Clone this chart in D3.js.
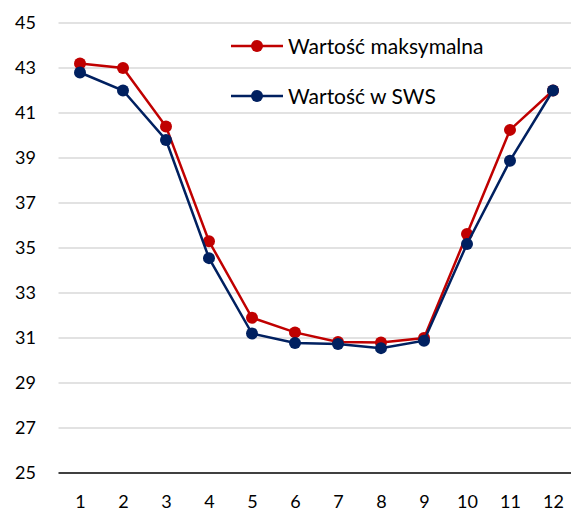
<!DOCTYPE html>
<html>
<head>
<meta charset="utf-8">
<script src="https://cdn.jsdelivr.net/npm/d3@7"></script>
<style>
  body { margin: 0; background: #fff; }
  text { font-family: Lato, "Open Sans", sans-serif; fill: #000; }
</style>
</head>
<body>
<div id="chart"></div>
<script>
// data
const months = [1, 2, 3, 4, 5, 6, 7, 8, 9, 10, 11, 12];
const maxValues = [43.2, 43.0, 40.4, 35.3, 31.9, 31.25, 30.82, 30.8, 31.0, 35.62, 40.25, 42.0];
const swsValues = [42.8, 42.0, 39.8, 34.55, 31.2, 30.78, 30.73, 30.55, 30.88, 35.18, 38.88, 42.0];
const yTicks = [25, 27, 29, 31, 33, 35, 37, 39, 41, 43, 45];
const seriesNames = ["Wartość maksymalna", "Wartość w SWS"];
const seriesColors = ["#C00000", "#002060"];

const W = 571, H = 514;
const margin = {top: 23, right: 0, bottom: 41, left: 58.5};

const svg = d3.select("#chart")
  .append("svg")
    .attr("width", W)
    .attr("height", H);

// x: one band per month, points sit in the middle
const x = d3.scalePoint()
  .domain(months)
  .range([80, 553]);

const y = d3.scaleLinear()
  .domain([25, 45])
  .range([H - margin.bottom, margin.top]);

// gridlines
svg.append("g")
  .selectAll("line")
  .data(yTicks.slice(1))
  .enter().append("line")
    .attr("x1", margin.left)
    .attr("x2", W)
    .attr("y1", d => y(d))
    .attr("y2", d => y(d))
    .attr("stroke", "#d9d9d9")
    .attr("stroke-width", 1.5);

// baseline
svg.append("line")
  .attr("x1", margin.left)
  .attr("x2", W)
  .attr("y1", y(25))
  .attr("y2", y(25))
  .attr("stroke", "#000")
  .attr("stroke-width", 1.5);

// y labels
const yAxis = svg.append("g")
  .attr("transform", `translate(36,0)`)
  .call(d3.axisLeft(y).tickValues(yTicks).tickSize(0).tickPadding(0));
yAxis.select(".domain").remove();
yAxis.selectAll("text")
  .style("font-size", "18px")
  .style("font-family", "Lato, sans-serif")
  .attr("fill", "#000");

// x labels
const xAxis = svg.append("g")
  .attr("transform", `translate(0,${y(25)})`)
  .call(d3.axisBottom(x).tickSize(0).tickPadding(22));
xAxis.select(".domain").remove();
xAxis.selectAll("text")
  .style("font-size", "18px")
  .style("font-family", "Lato, sans-serif")
  .attr("fill", "#000");

const line = d3.line()
  .x((d, i) => x(months[i]))
  .y(d => y(d));

const allSeries = [maxValues, swsValues];

allSeries.forEach(function(vals, k) {
  const g = svg.append("g");
  g.append("path")
    .datum(vals)
    .attr("d", line)
    .attr("fill", "none")
    .attr("stroke", seriesColors[k])
    .attr("stroke-width", 2.5);
  g.selectAll("circle")
    .data(vals)
    .enter().append("circle")
      .attr("cx", (d, i) => x(months[i]))
      .attr("cy", d => y(d))
      .attr("r", 6)
      .attr("fill", seriesColors[k]);
});

// legend
const legend = svg.append("g");
seriesNames.forEach(function(name, k) {
  const ly = 46 + k * 50;
  legend.append("line")
    .attr("x1", 231).attr("x2", 283)
    .attr("y1", ly).attr("y2", ly)
    .attr("stroke", seriesColors[k])
    .attr("stroke-width", 2.5);
  legend.append("circle")
    .attr("cx", 257).attr("cy", ly)
    .attr("r", 6)
    .attr("fill", seriesColors[k]);
  legend.append("text")
    .attr("x", 288)
    .attr("y", ly + 7.5)
    .style("font-size", "21px")
    .text(name);
});
</script>
</body>
</html>
